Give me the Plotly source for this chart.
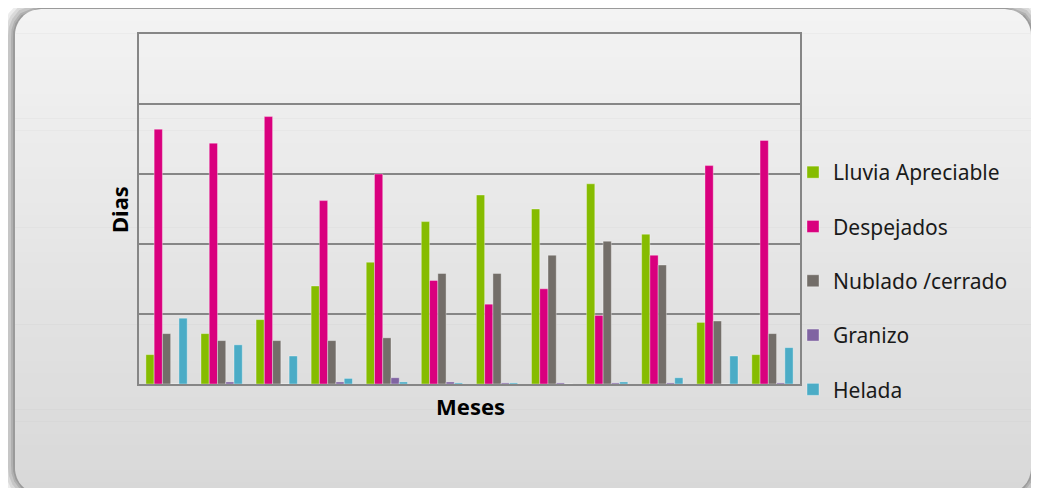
import math
import plotly.graph_objects as go

OFF = 8  # page body margin
W, H = 1039 - OFF, 488 - OFF

meses = ["Ene", "Feb", "Mar", "Abr", "May", "Jun", "Jul", "Ago", "Sep", "Oct", "Nov", "Dic"]
lluvia = [2.1, 3.6, 4.6, 7.0, 8.7, 11.6, 13.5, 12.5, 14.3, 10.7, 4.4, 2.1]
despejados = [18.2, 17.2, 19.1, 13.1, 15.0, 7.4, 5.7, 6.8, 4.9, 9.2, 15.6, 17.4]
nublado = [3.6, 3.1, 3.1, 3.1, 3.3, 7.9, 7.9, 9.2, 10.2, 8.5, 4.5, 3.6]
granizo = [0.0, 0.15, 0.0, 0.15, 0.45, 0.15, 0.08, 0.08, 0.08, 0.08, 0.0, 0.08]
helada = [4.7, 2.8, 2.0, 0.4, 0.15, 0.08, 0.08, 0.0, 0.15, 0.45, 2.0, 2.6]

series = [
    ("Lluvia Apreciable", lluvia, "#86BC00"),
    ("Despejados", despejados, "#D9007E"),
    ("Nublado /cerrado", nublado, "#736E69"),
    ("Granizo", granizo, "#8064A2"),
    ("Helada", helada, "#4BACC6"),
]

FONT = "Noto Sans"

fig = go.Figure()
for i, (name, vals, col) in enumerate(series):
    fig.add_trace(go.Bar(
        x=meses, y=vals, name=name, legendgroup=f"g{i}",
        marker=dict(color=col, line=dict(color="rgba(255,255,255,0.35)", width=1)),
    ))

# ---- helpers: reference-pixel -> paper ----
def px(x):
    return (x - OFF) / W

def py(y):
    return 1 - (y - OFF) / H

def rr_points(x0, y0, x1, y1, r, ya, yb, n=14):
    ys = [ya + (yb - ya) * k / n for k in range(n + 1)]
    def inset(y):
        if y < y0 + r:
            d = r - (y - y0)
            return r - math.sqrt(max(r * r - d * d, 0))
        if y > y1 - r:
            d = r - (y1 - y)
            return r - math.sqrt(max(r * r - d * d, 0))
        return 0
    left = [(x0 + inset(y), y) for y in ys]
    right = [(x1 - inset(y), y) for y in reversed(ys)]
    pts = left + right
    return "M " + " L ".join(f"{px(a):.5f},{py(b):.5f}" for a, b in pts) + " Z"

shapes = []
X0, Y0, X1, Y1, R = 15, 9, 1031, 494, 26
for d, a in [(13, 0.07), (10, 0.08), (7, 0.09), (4, 0.11), (2, 0.12)]:
    shapes.append(dict(type="path", xref="paper", yref="paper", layer="below",
                       path=rr_points(X0 - d, Y0 - d, X1 + d, Y1 + d, R + d, Y0 - d, Y1 + d, n=60),
                       fillcolor=f"rgba(0,0,0,{a})", line=dict(width=0)))
NB = 40
c_top, c_bot = 243, 216
for k in range(NB):
    ya = Y0 + (Y1 - Y0) * k / NB
    yb = Y0 + (Y1 - Y0) * (k + 1) / NB
    t = (k + 0.5) / NB
    c = round(c_top + (c_bot - c_top) * t)
    shapes.append(dict(type="path", xref="paper", yref="paper", layer="below",
                       path=rr_points(X0, Y0, X1, Y1, R, ya, yb + 0.6, n=10),
                       fillcolor=f"rgb({c},{c},{c})", line=dict(width=0)))

PL, PR, PT, PB = 139, 800, 34, 384

fig.update_layout(
    width=W, height=H,
    margin=dict(l=0, r=0, t=0, b=0),
    paper_bgcolor="white",
    plot_bgcolor="#F2F2F2",
    barmode="group", bargap=0.25, bargroupgap=0.0,
    shapes=shapes,
    font=dict(family=FONT, color="#000000"),
    showlegend=True,
    legend=dict(x=px(793), xanchor="left", y=py(152), yanchor="top",
                bgcolor="rgba(0,0,0,0)", font=dict(size=21, family=FONT, color="#1a1a1a"),
                tracegroupgap=24, itemwidth=30),
    xaxis=dict(domain=[px(PL), px(PR)], showticklabels=False, ticks="",
               showline=True, linecolor="#868686", linewidth=2, mirror=True,
               showgrid=False, zeroline=False),
    yaxis=dict(domain=[py(PB), py(PT)], range=[0, 25], dtick=5, showticklabels=False,
               ticks="", showgrid=True, gridcolor="#868686", gridwidth=2,
               showline=True, linecolor="#868686", linewidth=2, mirror=True,
               zeroline=False),
    annotations=[
        dict(text="<b>Dias</b>", x=px(119), y=py(210), xref="paper", yref="paper",
             xanchor="center", yanchor="middle",
             textangle=-90, showarrow=False, font=dict(size=22, family=FONT)),
        dict(text="<b>Meses</b>", x=px(470), y=py(406), xref="paper", yref="paper",
             xanchor="center", yanchor="middle",
             showarrow=False, font=dict(size=22, family=FONT)),
    ],
)

fig.write_html("out.html")
